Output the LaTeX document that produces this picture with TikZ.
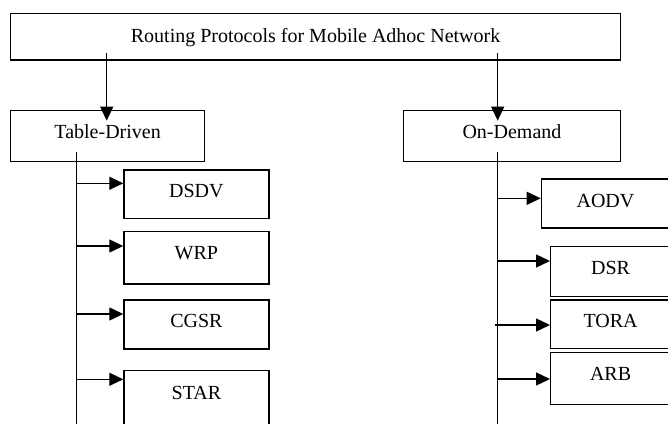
\documentclass[tikz,border=0pt]{standalone}
\usepackage{fontspec}
\setmainfont{Liberation Serif}
\usetikzlibrary{arrows.meta}
\begin{document}
\begin{tikzpicture}[x=1pt,y=-1pt,
  box/.style={draw,line width=1.2pt,inner sep=0pt,anchor=north west,
    font=\fontsize{20}{24}\selectfont},
  arr/.style={line width=1.2pt,-{Triangle[length=14pt,width=13pt]}},
  ln/.style={line width=1.2pt}]
\clip (0,0) rectangle (668,423);
% boxes
\node[box,minimum width=610pt,text height=29pt,text depth=17.6pt] (top) at (10,12.7) {Routing Protocols for Mobile Adhoc Network};
\node[box,minimum width=194pt,text height=28pt,text depth=23pt] (td) at (10,110) {Table-Driven};
\node[box,minimum width=217.3pt,text height=28pt,text depth=22.5pt] (od) at (402.7,110) {On-Demand};
\node[box,minimum width=145pt,text height=28pt,text depth=20.7pt] (dsdv) at (123.3,169.3) {DSDV};
\node[box,minimum width=145pt,text height=28.6pt,text depth=24pt] (wrp) at (123.3,230.7) {WRP};
\node[box,minimum width=145pt,text height=28pt,text depth=21pt] (cgsr) at (123.3,299.3) {CGSR};
\node[box,minimum width=145pt,text height=29pt,text depth=40pt] (star) at (123.3,370) {STAR};
\node[box,minimum width=128.3pt,text height=28.4pt,text depth=20.6pt] (aodv) at (540.7,178.3) {AODV};
\node[box,minimum width=120pt,text height=28.3pt,text depth=21.7pt] (dsr) at (550,245.7) {DSR};
\node[box,minimum width=120pt,text height=27.4pt,text depth=21pt] (tora) at (550,299.3) {TORA};
\node[box,minimum width=120pt,text height=28.3pt,text depth=24pt] (arb) at (550,351.7) {ARB};
% top arrows
\coordinate (a1s) at (106.7,53.3);
\coordinate (a1e) at (106.7,120.7);
\coordinate (a2s) at (497.7,53.3);
\coordinate (a2e) at (497.7,120.7);
\draw[arr] (a1s) -- (a1e);
\draw[arr] (a2s) -- (a2e);
% trunks
\coordinate (lt) at (76.7,151.7);
\coordinate (lb) at (76.7,430);
\coordinate (rt) at (497.7,151.7);
\coordinate (rb) at (497.7,430);
\draw[ln] (lt) -- (lb);
\draw[ln] (rt) -- (rb);
% left branches
\coordinate (b1) at (76.7,183.3);
\coordinate (b2) at (76.7,246);
\coordinate (b3) at (76.7,314);
\coordinate (b4) at (76.7,379.3);
\draw[arr] (b1) -- (b1 -| dsdv.west);
\draw[arr] (b2) -- (b2 -| wrp.west);
\draw[arr] (b3) -- (b3 -| cgsr.west);
\draw[arr] (b4) -- (b4 -| star.west);
% right branches
\coordinate (c1) at (497.7,198.3);
\coordinate (c2) at (497.7,261);
\coordinate (c3) at (495,325);
\coordinate (c4) at (497.7,379);
\draw[arr] (c1) -- (c1 -| aodv.west);
\draw[arr] (c2) -- (c2 -| dsr.west);
\draw[arr] (c3) -- (c3 -| tora.west);
\draw[arr] (c4) -- (c4 -| arb.west);
\end{tikzpicture}
\end{document}
